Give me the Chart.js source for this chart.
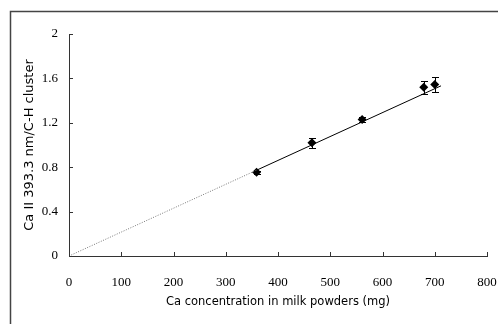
<!DOCTYPE html>
<html>
<head>
<meta charset="utf-8">
<script src="https://cdn.jsdelivr.net/npm/chart.js@4/dist/chart.umd.min.js"></script>
<style>
  html, body { margin: 0; padding: 0; background: #fff; }
  #wrap { width: 498px; height: 324px; }
</style>
</head>
<body>
<div id="wrap"><canvas id="chart" width="498" height="324"></canvas></div>
<script>
// measured points (Ca conc in mg vs. intensity ratio) with error bars
const concMg = [359, 465, 561, 679, 700];
const ratio = [0.755, 1.02, 1.23, 1.52, 1.545];
const ratioErr = [0.015, 0.045, 0.025, 0.06, 0.07];

// regression line: dotted extrapolation to origin, solid over data range
const fitDottedX = [0, 360];
const fitDottedY = [0, 0.775];
const fitSolidX = [360, 712];
const fitSolidY = [0.775, 1.533];

const xTickLabels = ['0', '100', '200', '300', '400', '500', '600', '700', '800'];
const yTickLabels = ['0', '0.4', '0.8', '1.2', '1.6', '2'];

const toXY = (xs, ys) => xs.map((x, i) => ({ x: x, y: ys[i] }));

const serif = "'Liberation Serif', 'Times New Roman', serif";
const gothic = "'DejaVu Sans', sans-serif";

// little tick marks pointing into the plot, plus the outer frame
const frameAndTicks = {
    id: 'frameAndTicks',
    beforeDraw(chart) {
        const ctx = chart.ctx;
        ctx.save();
        ctx.strokeStyle = '#444';
        ctx.lineWidth = 1.5;
        ctx.strokeRect(10.5, 11.5, 700, 700);
        ctx.restore();
    },
    afterDraw(chart) {
        const ctx = chart.ctx;
        const xs = chart.scales.x, ys = chart.scales.y;
        ctx.save();
        ctx.strokeStyle = '#333';
        ctx.lineWidth = 1;
        ctx.beginPath();
        xs.ticks.forEach(t => {
            const px = Math.round(xs.getPixelForValue(t.value)) + 0.5;
            ctx.moveTo(px, ys.bottom);
            ctx.lineTo(px, ys.bottom - 4);
        });
        ys.ticks.forEach(t => {
            const py = Math.round(ys.getPixelForValue(t.value)) + 0.5;
            ctx.moveTo(xs.left, py);
            ctx.lineTo(xs.left + 4, py);
        });
        ctx.stroke();
        ctx.restore();
    }
};

const errorBars = {
    id: 'errorBars',
    afterDatasetsDraw(chart) {
        const ctx = chart.ctx;
        const xs = chart.scales.x, ys = chart.scales.y;
        ctx.save();
        ctx.strokeStyle = '#000';
        ctx.lineWidth = 1;
        ctx.beginPath();
        concMg.forEach((c, i) => {
            const px = Math.round(xs.getPixelForValue(c)) + 0.5;
            const top = Math.round(ys.getPixelForValue(ratio[i] + ratioErr[i])) + 0.5;
            const bot = Math.round(ys.getPixelForValue(ratio[i] - ratioErr[i])) + 0.5;
            ctx.moveTo(px, top); ctx.lineTo(px, bot);
            ctx.moveTo(px - 3.5, top); ctx.lineTo(px + 3.5, top);
            ctx.moveTo(px - 3.5, bot); ctx.lineTo(px + 3.5, bot);
        });
        ctx.stroke();
        ctx.restore();
    }
};

const ctx = document.getElementById('chart').getContext('2d');
new Chart(ctx, {
    type: 'scatter',
    data: {
        datasets: [{
            data: toXY(fitDottedX, fitDottedY),
            showLine: true,
            borderColor: '#777',
            borderWidth: 1,
            borderDash: [1, 1.5],
            pointRadius: 0
        }, {
            data: toXY(fitSolidX, fitSolidY),
            showLine: true,
            borderColor: '#000',
            borderWidth: 1,
            pointRadius: 0
        }, {
            data: toXY(concMg, ratio),
            pointStyle: 'rectRot',
            pointRadius: 4.5,
            backgroundColor: '#000',
            borderColor: '#000',
            borderWidth: 0
        }]
    },
    options: {
        responsive: false,
        animation: false,
        layout: { padding: { left: 0, right: 11, top: 34, bottom: 0 } },
        plugins: {
            legend: { display: false },
            tooltip: { enabled: false }
        },
        scales: {
            x: {
                type: 'linear',
                min: 0,
                max: 800,
                afterFit: function (scale) {
                    scale.height = 68;
                    // keep the tick padding from eating into the right margin
                    scale.paddingRight = 10;
                    scale.paddingLeft = 0;
                },
                grid: { drawOnChartArea: false, drawTicks: false },
                border: { color: '#333', width: 1 },
                ticks: {
                    stepSize: 100,
                    padding: 19,
                    color: '#000',
                    maxRotation: 0,
                    font: { family: serif, size: 13 },
                    callback: (v, i) => xTickLabels[i]
                },
                title: {
                    display: true,
                    text: 'Ca concentration in milk powders (mg)',
                    color: '#000',
                    font: { family: gothic, size: 11.5 },
                    padding: { bottom: 15 }
                }
            },
            y: {
                type: 'linear',
                min: 0,
                max: 2,
                afterFit: function (scale) { scale.width = 69; },
                grid: { drawOnChartArea: false, drawTicks: false },
                border: { color: '#333', width: 1 },
                ticks: {
                    stepSize: 0.4,
                    padding: 11,
                    color: '#000',
                    font: { family: serif, size: 13 },
                    callback: (v, i) => yTickLabels[i]
                },
                title: {
                    display: true,
                    text: 'Ca II 393.3 nm/C-H cluster',
                    color: '#000',
                    font: { family: gothic, size: 13 },
                    padding: { top: 22 }
                }
            }
        }
    },
    plugins: [frameAndTicks, errorBars]
});
</script>
</body>
</html>
